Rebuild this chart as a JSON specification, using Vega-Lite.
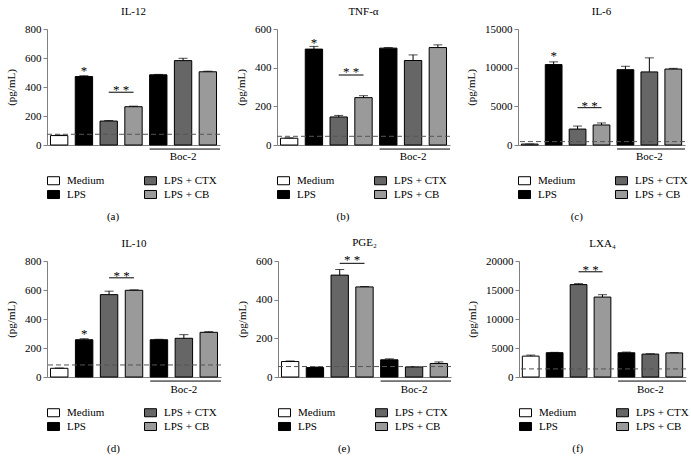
{
"$schema": "https://vega.github.io/schema/vega-lite/v6.json",
"padding": {"left": 5, "top": 6, "right": 2, "bottom": 2},
"config": {
  "font": "Liberation Serif",
  "view": {"stroke": null},
  "text": {"color": "#000"},
  "axis": {"grid": false, "labelFontSize": 11, "labelColor": "#000", "labelOverlap": false, "titleFontSize": 11, "titleFontWeight": "normal", "titleColor": "#000", "domainColor": "#808080", "tickColor": "#808080", "tickSize": 4, "labelPadding": 2},
  "axisY": {"titlePadding": 8},
  "title": {"fontSize": 11, "fontWeight": "normal", "color": "#000"},
  "legend": {"orient": "bottom", "columns": 2, "columnPadding": 37, "rowPadding": 1, "symbolType": "M-1,-0.67H1V0.67H-1Z", "symbolSize": 144, "symbolStrokeColor": "#000", "symbolStrokeWidth": 1, "labelFontSize": 11, "labelColor": "#000", "labelOffset": 7, "offset": 29, "padding": 0}
},
"datasets": {
  "a": [
    {"cond": "Medium", "group": "Medium", "v": 65, "hi": 68},
    {"cond": "LPS", "group": "LPS", "v": 472, "hi": 478},
    {"cond": "LPS + CTX", "group": "LPS + CTX", "v": 165, "hi": 169},
    {"cond": "LPS + CB", "group": "LPS + CB", "v": 264, "hi": 268},
    {"cond": "Boc-2 LPS", "group": "LPS", "v": 484, "hi": 487},
    {"cond": "Boc-2 LPS + CTX", "group": "LPS + CTX", "v": 582, "hi": 598},
    {"cond": "Boc-2 LPS + CB", "group": "LPS + CB", "v": 505, "hi": 509}
  ],
  "b": [
    {"cond": "Medium", "group": "Medium", "v": 35, "hi": 37},
    {"cond": "LPS", "group": "LPS", "v": 496, "hi": 510},
    {"cond": "LPS + CTX", "group": "LPS + CTX", "v": 145, "hi": 153},
    {"cond": "LPS + CB", "group": "LPS + CB", "v": 245, "hi": 255},
    {"cond": "Boc-2 LPS", "group": "LPS", "v": 501, "hi": 504},
    {"cond": "Boc-2 LPS + CTX", "group": "LPS + CTX", "v": 437, "hi": 466},
    {"cond": "Boc-2 LPS + CB", "group": "LPS + CB", "v": 504, "hi": 518}
  ],
  "c": [
    {"cond": "Medium", "group": "Medium", "v": 120, "hi": 130},
    {"cond": "LPS", "group": "LPS", "v": 10400, "hi": 10750},
    {"cond": "LPS + CTX", "group": "LPS + CTX", "v": 2060, "hi": 2450},
    {"cond": "LPS + CB", "group": "LPS + CB", "v": 2590, "hi": 2850},
    {"cond": "Boc-2 LPS", "group": "LPS", "v": 9740, "hi": 10180},
    {"cond": "Boc-2 LPS + CTX", "group": "LPS + CTX", "v": 9450, "hi": 11270},
    {"cond": "Boc-2 LPS + CB", "group": "LPS + CB", "v": 9820, "hi": 9910}
  ],
  "d": [
    {"cond": "Medium", "group": "Medium", "v": 60, "hi": 62},
    {"cond": "LPS", "group": "LPS", "v": 257, "hi": 264},
    {"cond": "LPS + CTX", "group": "LPS + CTX", "v": 568, "hi": 592},
    {"cond": "LPS + CB", "group": "LPS + CB", "v": 598, "hi": 601},
    {"cond": "Boc-2 LPS", "group": "LPS", "v": 257, "hi": 260},
    {"cond": "Boc-2 LPS + CTX", "group": "LPS + CTX", "v": 267, "hi": 292},
    {"cond": "Boc-2 LPS + CB", "group": "LPS + CB", "v": 308, "hi": 313}
  ],
  "e": [
    {"cond": "Medium", "group": "Medium", "v": 80, "hi": 83},
    {"cond": "LPS", "group": "LPS", "v": 49, "hi": 52},
    {"cond": "LPS + CTX", "group": "LPS + CTX", "v": 527, "hi": 556},
    {"cond": "LPS + CB", "group": "LPS + CB", "v": 466, "hi": 468},
    {"cond": "Boc-2 LPS", "group": "LPS", "v": 89, "hi": 94},
    {"cond": "Boc-2 LPS + CTX", "group": "LPS + CTX", "v": 52, "hi": 54},
    {"cond": "Boc-2 LPS + CB", "group": "LPS + CB", "v": 70, "hi": 78}
  ],
  "f": [
    {"cond": "Medium", "group": "Medium", "v": 3600, "hi": 3780},
    {"cond": "LPS", "group": "LPS", "v": 4190, "hi": 4250},
    {"cond": "LPS + CTX", "group": "LPS + CTX", "v": 15930, "hi": 16100},
    {"cond": "LPS + CB", "group": "LPS + CB", "v": 13780, "hi": 14190},
    {"cond": "Boc-2 LPS", "group": "LPS", "v": 4180, "hi": 4300},
    {"cond": "Boc-2 LPS + CTX", "group": "LPS + CTX", "v": 3950, "hi": 4010},
    {"cond": "Boc-2 LPS + CB", "group": "LPS + CB", "v": 4150, "hi": 4200}
  ]
},
"resolve": {"scale": {"fill": "independent"}, "legend": {"fill": "independent"}},
"spacing": 15,
"vconcat": [
{"hconcat": [
 {"title": {"text": "(a)", "orient": "bottom", "anchor": "middle", "offset": 10},
  "resolve": {"scale": {"fill": "independent"}, "legend": {"fill": "independent"}},
  "vconcat": [{
   "width": 173, "height": 116,
   "title": {"text": "IL-12", "frame": "group", "offset": 6},
   "layer": [
    {"data": {"name": "a"}, "mark": {"type": "bar", "stroke": "#000", "strokeWidth": 1},
     "encoding": {
      "x": {"field": "cond", "type": "nominal", "sort": null, "scale": {"domain": ["Medium","LPS","LPS + CTX","LPS + CB","Boc-2 LPS","Boc-2 LPS + CTX","Boc-2 LPS + CB"], "paddingInner": 0.3, "paddingOuter": 0.14}, "axis": {"labels": false, "ticks": false, "title": null}},
      "y": {"field": "v", "type": "quantitative", "scale": {"domain": [0, 800], "nice": false}, "axis": {"values": [0, 200, 400, 600, 800], "tickCount": 5, "labelOverlap": false, "format": "d", "title": "(pg/mL)"}},
      "fill": {"field": "group", "type": "nominal", "scale": {"domain": ["Medium", "LPS + CTX", "LPS", "LPS + CB"], "range": ["#ffffff", "#666666", "#000000", "#9a9a9a"]}, "legend": {"title": null}}}},
    {"data": {"name": "a"}, "mark": {"type": "rule", "color": "#000"},
     "encoding": {
      "x": {"field": "cond", "type": "nominal", "sort": null, "scale": {"domain": ["Medium","LPS","LPS + CTX","LPS + CB","Boc-2 LPS","Boc-2 LPS + CTX","Boc-2 LPS + CB"], "paddingInner": 0.3, "paddingOuter": 0.14}, "axis": {"labels": false, "ticks": false, "title": null}},
      "y": {"field": "v", "type": "quantitative", "scale": {"domain": [0, 800], "nice": false}, "axis": {"values": [0, 200, 400, 600, 800], "tickCount": 5, "labelOverlap": false, "format": "d", "title": "(pg/mL)"}}, "y2": {"field": "hi"}}},
    {"data": {"name": "a"}, "mark": {"type": "tick", "color": "#000", "size": 9, "thickness": 1},
     "encoding": {
      "x": {"field": "cond", "type": "nominal", "sort": null, "scale": {"domain": ["Medium","LPS","LPS + CTX","LPS + CB","Boc-2 LPS","Boc-2 LPS + CTX","Boc-2 LPS + CB"], "paddingInner": 0.3, "paddingOuter": 0.14}, "axis": {"labels": false, "ticks": false, "title": null}},
      "y": {"field": "hi", "type": "quantitative", "scale": {"domain": [0, 800], "nice": false}, "axis": {"values": [0, 200, 400, 600, 800], "tickCount": 5, "labelOverlap": false, "format": "d", "title": "(pg/mL)"}}}},
    {"data": {"values": [{"b": 74}]}, "mark": {"type": "rule", "color": "#555", "strokeDash": [5, 3]},
     "encoding": {"y": {"field": "b", "type": "quantitative", "scale": {"domain": [0, 800], "nice": false}, "axis": {"values": [0, 200, 400, 600, 800], "tickCount": 5, "labelOverlap": false, "format": "d", "title": "(pg/mL)"}}}},
    {"data": {"values": [{"cond": "LPS", "y": 510, "t": "*"}]}, "mark": {"type": "text", "fontSize": 13, "color": "#000"},
     "encoding": {
      "x": {"field": "cond", "type": "nominal", "sort": null, "scale": {"domain": ["Medium","LPS","LPS + CTX","LPS + CB","Boc-2 LPS","Boc-2 LPS + CTX","Boc-2 LPS + CB"], "paddingInner": 0.3, "paddingOuter": 0.14}, "axis": {"labels": false, "ticks": false, "title": null}},
      "y": {"field": "y", "type": "quantitative", "scale": {"domain": [0, 800], "nice": false}, "axis": {"values": [0, 200, 400, 600, 800], "tickCount": 5, "labelOverlap": false, "format": "d", "title": "(pg/mL)"}}, "text": {"field": "t"}}},
    {"data": {"values": [{"cond": "Boc-2 LPS + CTX", "y": -83, "t": "Boc-2"}]}, "mark": {"type": "text", "fontSize": 11, "color": "#000"},
     "encoding": {
      "x": {"field": "cond", "type": "nominal", "sort": null, "scale": {"domain": ["Medium","LPS","LPS + CTX","LPS + CB","Boc-2 LPS","Boc-2 LPS + CTX","Boc-2 LPS + CB"], "paddingInner": 0.3, "paddingOuter": 0.14}, "axis": {"labels": false, "ticks": false, "title": null}},
      "y": {"field": "y", "type": "quantitative", "scale": {"domain": [0, 800], "nice": false}, "axis": {"values": [0, 200, 400, 600, 800], "tickCount": 5, "labelOverlap": false, "format": "d", "title": "(pg/mL)"}}, "text": {"field": "t"}}},
    {"data": {"values": [{"cond": "LPS + CTX", "y": 381, "t": "* *"}]}, "mark": {"type": "text", "fontSize": 13, "color": "#000"},
     "encoding": {
      "x": {"field": "cond", "type": "nominal", "sort": null, "bandPosition": 1.215, "scale": {"domain": ["Medium","LPS","LPS + CTX","LPS + CB","Boc-2 LPS","Boc-2 LPS + CTX","Boc-2 LPS + CB"], "paddingInner": 0.3, "paddingOuter": 0.14}, "axis": {"labels": false, "ticks": false, "title": null}},
      "y": {"field": "y", "type": "quantitative", "scale": {"domain": [0, 800], "nice": false}, "axis": {"values": [0, 200, 400, 600, 800], "tickCount": 5, "labelOverlap": false, "format": "d", "title": "(pg/mL)"}}, "text": {"field": "t"}}},
    {"data": {"values": [{"c1": "LPS + CTX", "c2": "LPS + CB", "y": 364}]}, "mark": {"type": "rule", "color": "#000"},
     "encoding": {
      "x": {"field": "c1", "type": "nominal", "sort": null, "scale": {"domain": ["Medium","LPS","LPS + CTX","LPS + CB","Boc-2 LPS","Boc-2 LPS + CTX","Boc-2 LPS + CB"], "paddingInner": 0.3, "paddingOuter": 0.14}, "axis": {"labels": false, "ticks": false, "title": null}},
      "x2": {"field": "c2"},
      "y": {"field": "y", "type": "quantitative", "scale": {"domain": [0, 800], "nice": false}, "axis": {"values": [0, 200, 400, 600, 800], "tickCount": 5, "labelOverlap": false, "format": "d", "title": "(pg/mL)"}}}},
    {"data": {"values": [{"c1": "Boc-2 LPS", "c2": "Boc-2 LPS + CB", "y": -28}]}, "mark": {"type": "rule", "color": "#000"},
     "encoding": {
      "x": {"field": "c1", "type": "nominal", "sort": null, "bandPosition": 0, "scale": {"domain": ["Medium","LPS","LPS + CTX","LPS + CB","Boc-2 LPS","Boc-2 LPS + CTX","Boc-2 LPS + CB"], "paddingInner": 0.3, "paddingOuter": 0.14}, "axis": {"labels": false, "ticks": false, "title": null}},
      "x2": {"field": "c2", "bandPosition": 1.2},
      "y": {"field": "y", "type": "quantitative", "scale": {"domain": [0, 800], "nice": false}, "axis": {"values": [0, 200, 400, 600, 800], "tickCount": 5, "labelOverlap": false, "format": "d", "title": "(pg/mL)"}}}}
   ]
  }]
 },
 {"title": {"text": "(b)", "orient": "bottom", "anchor": "middle", "offset": 10},
  "resolve": {"scale": {"fill": "independent"}, "legend": {"fill": "independent"}},
  "vconcat": [{
   "width": 173, "height": 116,
   "title": {"text": "TNF-α", "frame": "group", "offset": 6},
   "layer": [
    {"data": {"name": "b"}, "mark": {"type": "bar", "stroke": "#000", "strokeWidth": 1},
     "encoding": {
      "x": {"field": "cond", "type": "nominal", "sort": null, "scale": {"domain": ["Medium","LPS","LPS + CTX","LPS + CB","Boc-2 LPS","Boc-2 LPS + CTX","Boc-2 LPS + CB"], "paddingInner": 0.3, "paddingOuter": 0.14}, "axis": {"labels": false, "ticks": false, "title": null}},
      "y": {"field": "v", "type": "quantitative", "scale": {"domain": [0, 600], "nice": false}, "axis": {"values": [0, 200, 400, 600], "tickCount": 4, "labelOverlap": false, "format": "d", "title": "(pg/mL)"}},
      "fill": {"field": "group", "type": "nominal", "scale": {"domain": ["Medium", "LPS + CTX", "LPS", "LPS + CB"], "range": ["#ffffff", "#666666", "#000000", "#9a9a9a"]}, "legend": {"title": null}}}},
    {"data": {"name": "b"}, "mark": {"type": "rule", "color": "#000"},
     "encoding": {
      "x": {"field": "cond", "type": "nominal", "sort": null, "scale": {"domain": ["Medium","LPS","LPS + CTX","LPS + CB","Boc-2 LPS","Boc-2 LPS + CTX","Boc-2 LPS + CB"], "paddingInner": 0.3, "paddingOuter": 0.14}, "axis": {"labels": false, "ticks": false, "title": null}},
      "y": {"field": "v", "type": "quantitative", "scale": {"domain": [0, 600], "nice": false}, "axis": {"values": [0, 200, 400, 600], "tickCount": 4, "labelOverlap": false, "format": "d", "title": "(pg/mL)"}}, "y2": {"field": "hi"}}},
    {"data": {"name": "b"}, "mark": {"type": "tick", "color": "#000", "size": 9, "thickness": 1},
     "encoding": {
      "x": {"field": "cond", "type": "nominal", "sort": null, "scale": {"domain": ["Medium","LPS","LPS + CTX","LPS + CB","Boc-2 LPS","Boc-2 LPS + CTX","Boc-2 LPS + CB"], "paddingInner": 0.3, "paddingOuter": 0.14}, "axis": {"labels": false, "ticks": false, "title": null}},
      "y": {"field": "hi", "type": "quantitative", "scale": {"domain": [0, 600], "nice": false}, "axis": {"values": [0, 200, 400, 600], "tickCount": 4, "labelOverlap": false, "format": "d", "title": "(pg/mL)"}}}},
    {"data": {"values": [{"b": 45}]}, "mark": {"type": "rule", "color": "#555", "strokeDash": [5, 3]},
     "encoding": {"y": {"field": "b", "type": "quantitative", "scale": {"domain": [0, 600], "nice": false}, "axis": {"values": [0, 200, 400, 600], "tickCount": 4, "labelOverlap": false, "format": "d", "title": "(pg/mL)"}}}},
    {"data": {"values": [{"cond": "LPS", "y": 526, "t": "*"}]}, "mark": {"type": "text", "fontSize": 13, "color": "#000"},
     "encoding": {
      "x": {"field": "cond", "type": "nominal", "sort": null, "scale": {"domain": ["Medium","LPS","LPS + CTX","LPS + CB","Boc-2 LPS","Boc-2 LPS + CTX","Boc-2 LPS + CB"], "paddingInner": 0.3, "paddingOuter": 0.14}, "axis": {"labels": false, "ticks": false, "title": null}},
      "y": {"field": "y", "type": "quantitative", "scale": {"domain": [0, 600], "nice": false}, "axis": {"values": [0, 200, 400, 600], "tickCount": 4, "labelOverlap": false, "format": "d", "title": "(pg/mL)"}}, "text": {"field": "t"}}},
    {"data": {"values": [{"cond": "Boc-2 LPS + CTX", "y": -62, "t": "Boc-2"}]}, "mark": {"type": "text", "fontSize": 11, "color": "#000"},
     "encoding": {
      "x": {"field": "cond", "type": "nominal", "sort": null, "scale": {"domain": ["Medium","LPS","LPS + CTX","LPS + CB","Boc-2 LPS","Boc-2 LPS + CTX","Boc-2 LPS + CB"], "paddingInner": 0.3, "paddingOuter": 0.14}, "axis": {"labels": false, "ticks": false, "title": null}},
      "y": {"field": "y", "type": "quantitative", "scale": {"domain": [0, 600], "nice": false}, "axis": {"values": [0, 200, 400, 600], "tickCount": 4, "labelOverlap": false, "format": "d", "title": "(pg/mL)"}}, "text": {"field": "t"}}},
    {"data": {"values": [{"cond": "LPS + CTX", "y": 377, "t": "* *"}]}, "mark": {"type": "text", "fontSize": 13, "color": "#000"},
     "encoding": {
      "x": {"field": "cond", "type": "nominal", "sort": null, "bandPosition": 1.215, "scale": {"domain": ["Medium","LPS","LPS + CTX","LPS + CB","Boc-2 LPS","Boc-2 LPS + CTX","Boc-2 LPS + CB"], "paddingInner": 0.3, "paddingOuter": 0.14}, "axis": {"labels": false, "ticks": false, "title": null}},
      "y": {"field": "y", "type": "quantitative", "scale": {"domain": [0, 600], "nice": false}, "axis": {"values": [0, 200, 400, 600], "tickCount": 4, "labelOverlap": false, "format": "d", "title": "(pg/mL)"}}, "text": {"field": "t"}}},
    {"data": {"values": [{"c1": "LPS + CTX", "c2": "LPS + CB", "y": 362}]}, "mark": {"type": "rule", "color": "#000"},
     "encoding": {
      "x": {"field": "c1", "type": "nominal", "sort": null, "scale": {"domain": ["Medium","LPS","LPS + CTX","LPS + CB","Boc-2 LPS","Boc-2 LPS + CTX","Boc-2 LPS + CB"], "paddingInner": 0.3, "paddingOuter": 0.14}, "axis": {"labels": false, "ticks": false, "title": null}},
      "x2": {"field": "c2"},
      "y": {"field": "y", "type": "quantitative", "scale": {"domain": [0, 600], "nice": false}, "axis": {"values": [0, 200, 400, 600], "tickCount": 4, "labelOverlap": false, "format": "d", "title": "(pg/mL)"}}}},
    {"data": {"values": [{"c1": "Boc-2 LPS", "c2": "Boc-2 LPS + CB", "y": -21}]}, "mark": {"type": "rule", "color": "#000"},
     "encoding": {
      "x": {"field": "c1", "type": "nominal", "sort": null, "bandPosition": 0, "scale": {"domain": ["Medium","LPS","LPS + CTX","LPS + CB","Boc-2 LPS","Boc-2 LPS + CTX","Boc-2 LPS + CB"], "paddingInner": 0.3, "paddingOuter": 0.14}, "axis": {"labels": false, "ticks": false, "title": null}},
      "x2": {"field": "c2", "bandPosition": 1.2},
      "y": {"field": "y", "type": "quantitative", "scale": {"domain": [0, 600], "nice": false}, "axis": {"values": [0, 200, 400, 600], "tickCount": 4, "labelOverlap": false, "format": "d", "title": "(pg/mL)"}}}}
   ]
  }]
 },
 {"title": {"text": "(c)", "orient": "bottom", "anchor": "middle", "offset": 10},
  "resolve": {"scale": {"fill": "independent"}, "legend": {"fill": "independent"}},
  "vconcat": [{
   "width": 167, "height": 116,
   "title": {"text": "IL-6", "frame": "group", "offset": 6},
   "layer": [
    {"data": {"name": "c"}, "mark": {"type": "bar", "stroke": "#000", "strokeWidth": 1},
     "encoding": {
      "x": {"field": "cond", "type": "nominal", "sort": null, "scale": {"domain": ["Medium","LPS","LPS + CTX","LPS + CB","Boc-2 LPS","Boc-2 LPS + CTX","Boc-2 LPS + CB"], "paddingInner": 0.3, "paddingOuter": 0.14}, "axis": {"labels": false, "ticks": false, "title": null}},
      "y": {"field": "v", "type": "quantitative", "scale": {"domain": [0, 15000], "nice": false}, "axis": {"values": [0, 5000, 10000, 15000], "tickCount": 4, "labelOverlap": false, "format": "d", "title": "(pg/mL)"}},
      "fill": {"field": "group", "type": "nominal", "scale": {"domain": ["Medium", "LPS + CTX", "LPS", "LPS + CB"], "range": ["#ffffff", "#666666", "#000000", "#9a9a9a"]}, "legend": {"title": null}}}},
    {"data": {"name": "c"}, "mark": {"type": "rule", "color": "#000"},
     "encoding": {
      "x": {"field": "cond", "type": "nominal", "sort": null, "scale": {"domain": ["Medium","LPS","LPS + CTX","LPS + CB","Boc-2 LPS","Boc-2 LPS + CTX","Boc-2 LPS + CB"], "paddingInner": 0.3, "paddingOuter": 0.14}, "axis": {"labels": false, "ticks": false, "title": null}},
      "y": {"field": "v", "type": "quantitative", "scale": {"domain": [0, 15000], "nice": false}, "axis": {"values": [0, 5000, 10000, 15000], "tickCount": 4, "labelOverlap": false, "format": "d", "title": "(pg/mL)"}}, "y2": {"field": "hi"}}},
    {"data": {"name": "c"}, "mark": {"type": "tick", "color": "#000", "size": 9, "thickness": 1},
     "encoding": {
      "x": {"field": "cond", "type": "nominal", "sort": null, "scale": {"domain": ["Medium","LPS","LPS + CTX","LPS + CB","Boc-2 LPS","Boc-2 LPS + CTX","Boc-2 LPS + CB"], "paddingInner": 0.3, "paddingOuter": 0.14}, "axis": {"labels": false, "ticks": false, "title": null}},
      "y": {"field": "hi", "type": "quantitative", "scale": {"domain": [0, 15000], "nice": false}, "axis": {"values": [0, 5000, 10000, 15000], "tickCount": 4, "labelOverlap": false, "format": "d", "title": "(pg/mL)"}}}},
    {"data": {"values": [{"b": 440}]}, "mark": {"type": "rule", "color": "#555", "strokeDash": [5, 3]},
     "encoding": {"y": {"field": "b", "type": "quantitative", "scale": {"domain": [0, 15000], "nice": false}, "axis": {"values": [0, 5000, 10000, 15000], "tickCount": 4, "labelOverlap": false, "format": "d", "title": "(pg/mL)"}}}},
    {"data": {"values": [{"cond": "LPS", "y": 11452, "t": "*"}]}, "mark": {"type": "text", "fontSize": 13, "color": "#000"},
     "encoding": {
      "x": {"field": "cond", "type": "nominal", "sort": null, "scale": {"domain": ["Medium","LPS","LPS + CTX","LPS + CB","Boc-2 LPS","Boc-2 LPS + CTX","Boc-2 LPS + CB"], "paddingInner": 0.3, "paddingOuter": 0.14}, "axis": {"labels": false, "ticks": false, "title": null}},
      "y": {"field": "y", "type": "quantitative", "scale": {"domain": [0, 15000], "nice": false}, "axis": {"values": [0, 5000, 10000, 15000], "tickCount": 4, "labelOverlap": false, "format": "d", "title": "(pg/mL)"}}, "text": {"field": "t"}}},
    {"data": {"values": [{"cond": "Boc-2 LPS + CTX", "y": -1550, "t": "Boc-2"}]}, "mark": {"type": "text", "fontSize": 11, "color": "#000"},
     "encoding": {
      "x": {"field": "cond", "type": "nominal", "sort": null, "scale": {"domain": ["Medium","LPS","LPS + CTX","LPS + CB","Boc-2 LPS","Boc-2 LPS + CTX","Boc-2 LPS + CB"], "paddingInner": 0.3, "paddingOuter": 0.14}, "axis": {"labels": false, "ticks": false, "title": null}},
      "y": {"field": "y", "type": "quantitative", "scale": {"domain": [0, 15000], "nice": false}, "axis": {"values": [0, 5000, 10000, 15000], "tickCount": 4, "labelOverlap": false, "format": "d", "title": "(pg/mL)"}}, "text": {"field": "t"}}},
    {"data": {"values": [{"cond": "LPS + CTX", "y": 5090, "t": "* *"}]}, "mark": {"type": "text", "fontSize": 13, "color": "#000"},
     "encoding": {
      "x": {"field": "cond", "type": "nominal", "sort": null, "bandPosition": 1.215, "scale": {"domain": ["Medium","LPS","LPS + CTX","LPS + CB","Boc-2 LPS","Boc-2 LPS + CTX","Boc-2 LPS + CB"], "paddingInner": 0.3, "paddingOuter": 0.14}, "axis": {"labels": false, "ticks": false, "title": null}},
      "y": {"field": "y", "type": "quantitative", "scale": {"domain": [0, 15000], "nice": false}, "axis": {"values": [0, 5000, 10000, 15000], "tickCount": 4, "labelOverlap": false, "format": "d", "title": "(pg/mL)"}}, "text": {"field": "t"}}},
    {"data": {"values": [{"c1": "LPS + CTX", "c2": "LPS + CB", "y": 4825}]}, "mark": {"type": "rule", "color": "#000"},
     "encoding": {
      "x": {"field": "c1", "type": "nominal", "sort": null, "scale": {"domain": ["Medium","LPS","LPS + CTX","LPS + CB","Boc-2 LPS","Boc-2 LPS + CTX","Boc-2 LPS + CB"], "paddingInner": 0.3, "paddingOuter": 0.14}, "axis": {"labels": false, "ticks": false, "title": null}},
      "x2": {"field": "c2"},
      "y": {"field": "y", "type": "quantitative", "scale": {"domain": [0, 15000], "nice": false}, "axis": {"values": [0, 5000, 10000, 15000], "tickCount": 4, "labelOverlap": false, "format": "d", "title": "(pg/mL)"}}}},
    {"data": {"values": [{"c1": "Boc-2 LPS", "c2": "Boc-2 LPS + CB", "y": -516}]}, "mark": {"type": "rule", "color": "#000"},
     "encoding": {
      "x": {"field": "c1", "type": "nominal", "sort": null, "bandPosition": 0, "scale": {"domain": ["Medium","LPS","LPS + CTX","LPS + CB","Boc-2 LPS","Boc-2 LPS + CTX","Boc-2 LPS + CB"], "paddingInner": 0.3, "paddingOuter": 0.14}, "axis": {"labels": false, "ticks": false, "title": null}},
      "x2": {"field": "c2", "bandPosition": 1.2},
      "y": {"field": "y", "type": "quantitative", "scale": {"domain": [0, 15000], "nice": false}, "axis": {"values": [0, 5000, 10000, 15000], "tickCount": 4, "labelOverlap": false, "format": "d", "title": "(pg/mL)"}}}}
   ]
  }]
 }
], "spacing": 14, "resolve": {"scale": {"fill": "independent"}, "legend": {"fill": "independent"}}},
{"hconcat": [
 {"title": {"text": "(d)", "orient": "bottom", "anchor": "middle", "offset": 10},
  "resolve": {"scale": {"fill": "independent"}, "legend": {"fill": "independent"}},
  "vconcat": [{
   "width": 174, "height": 116,
   "title": {"text": "IL-10", "frame": "group", "offset": 6},
   "layer": [
    {"data": {"name": "d"}, "mark": {"type": "bar", "stroke": "#000", "strokeWidth": 1},
     "encoding": {
      "x": {"field": "cond", "type": "nominal", "sort": null, "scale": {"domain": ["Medium","LPS","LPS + CTX","LPS + CB","Boc-2 LPS","Boc-2 LPS + CTX","Boc-2 LPS + CB"], "paddingInner": 0.3, "paddingOuter": 0.14}, "axis": {"labels": false, "ticks": false, "title": null}},
      "y": {"field": "v", "type": "quantitative", "scale": {"domain": [0, 800], "nice": false}, "axis": {"values": [0, 200, 400, 600, 800], "tickCount": 5, "labelOverlap": false, "format": "d", "title": "(pg/mL)"}},
      "fill": {"field": "group", "type": "nominal", "scale": {"domain": ["Medium", "LPS + CTX", "LPS", "LPS + CB"], "range": ["#ffffff", "#666666", "#000000", "#9a9a9a"]}, "legend": {"title": null}}}},
    {"data": {"name": "d"}, "mark": {"type": "rule", "color": "#000"},
     "encoding": {
      "x": {"field": "cond", "type": "nominal", "sort": null, "scale": {"domain": ["Medium","LPS","LPS + CTX","LPS + CB","Boc-2 LPS","Boc-2 LPS + CTX","Boc-2 LPS + CB"], "paddingInner": 0.3, "paddingOuter": 0.14}, "axis": {"labels": false, "ticks": false, "title": null}},
      "y": {"field": "v", "type": "quantitative", "scale": {"domain": [0, 800], "nice": false}, "axis": {"values": [0, 200, 400, 600, 800], "tickCount": 5, "labelOverlap": false, "format": "d", "title": "(pg/mL)"}}, "y2": {"field": "hi"}}},
    {"data": {"name": "d"}, "mark": {"type": "tick", "color": "#000", "size": 9, "thickness": 1},
     "encoding": {
      "x": {"field": "cond", "type": "nominal", "sort": null, "scale": {"domain": ["Medium","LPS","LPS + CTX","LPS + CB","Boc-2 LPS","Boc-2 LPS + CTX","Boc-2 LPS + CB"], "paddingInner": 0.3, "paddingOuter": 0.14}, "axis": {"labels": false, "ticks": false, "title": null}},
      "y": {"field": "hi", "type": "quantitative", "scale": {"domain": [0, 800], "nice": false}, "axis": {"values": [0, 200, 400, 600, 800], "tickCount": 5, "labelOverlap": false, "format": "d", "title": "(pg/mL)"}}}},
    {"data": {"values": [{"b": 83}]}, "mark": {"type": "rule", "color": "#555", "strokeDash": [5, 3]},
     "encoding": {"y": {"field": "b", "type": "quantitative", "scale": {"domain": [0, 800], "nice": false}, "axis": {"values": [0, 200, 400, 600, 800], "tickCount": 5, "labelOverlap": false, "format": "d", "title": "(pg/mL)"}}}},
    {"data": {"values": [{"cond": "LPS", "y": 294, "t": "*"}]}, "mark": {"type": "text", "fontSize": 13, "color": "#000"},
     "encoding": {
      "x": {"field": "cond", "type": "nominal", "sort": null, "scale": {"domain": ["Medium","LPS","LPS + CTX","LPS + CB","Boc-2 LPS","Boc-2 LPS + CTX","Boc-2 LPS + CB"], "paddingInner": 0.3, "paddingOuter": 0.14}, "axis": {"labels": false, "ticks": false, "title": null}},
      "y": {"field": "y", "type": "quantitative", "scale": {"domain": [0, 800], "nice": false}, "axis": {"values": [0, 200, 400, 600, 800], "tickCount": 5, "labelOverlap": false, "format": "d", "title": "(pg/mL)"}}, "text": {"field": "t"}}},
    {"data": {"values": [{"cond": "Boc-2 LPS + CTX", "y": -90, "t": "Boc-2"}]}, "mark": {"type": "text", "fontSize": 11, "color": "#000"},
     "encoding": {
      "x": {"field": "cond", "type": "nominal", "sort": null, "scale": {"domain": ["Medium","LPS","LPS + CTX","LPS + CB","Boc-2 LPS","Boc-2 LPS + CTX","Boc-2 LPS + CB"], "paddingInner": 0.3, "paddingOuter": 0.14}, "axis": {"labels": false, "ticks": false, "title": null}},
      "y": {"field": "y", "type": "quantitative", "scale": {"domain": [0, 800], "nice": false}, "axis": {"values": [0, 200, 400, 600, 800], "tickCount": 5, "labelOverlap": false, "format": "d", "title": "(pg/mL)"}}, "text": {"field": "t"}}},
    {"data": {"values": [{"cond": "LPS + CTX", "y": 700, "t": "* *"}]}, "mark": {"type": "text", "fontSize": 13, "color": "#000"},
     "encoding": {
      "x": {"field": "cond", "type": "nominal", "sort": null, "bandPosition": 1.215, "scale": {"domain": ["Medium","LPS","LPS + CTX","LPS + CB","Boc-2 LPS","Boc-2 LPS + CTX","Boc-2 LPS + CB"], "paddingInner": 0.3, "paddingOuter": 0.14}, "axis": {"labels": false, "ticks": false, "title": null}},
      "y": {"field": "y", "type": "quantitative", "scale": {"domain": [0, 800], "nice": false}, "axis": {"values": [0, 200, 400, 600, 800], "tickCount": 5, "labelOverlap": false, "format": "d", "title": "(pg/mL)"}}, "text": {"field": "t"}}},
    {"data": {"values": [{"c1": "LPS + CTX", "c2": "LPS + CB", "y": 684}]}, "mark": {"type": "rule", "color": "#000"},
     "encoding": {
      "x": {"field": "c1", "type": "nominal", "sort": null, "scale": {"domain": ["Medium","LPS","LPS + CTX","LPS + CB","Boc-2 LPS","Boc-2 LPS + CTX","Boc-2 LPS + CB"], "paddingInner": 0.3, "paddingOuter": 0.14}, "axis": {"labels": false, "ticks": false, "title": null}},
      "x2": {"field": "c2"},
      "y": {"field": "y", "type": "quantitative", "scale": {"domain": [0, 800], "nice": false}, "axis": {"values": [0, 200, 400, 600, 800], "tickCount": 5, "labelOverlap": false, "format": "d", "title": "(pg/mL)"}}}},
    {"data": {"values": [{"c1": "Boc-2 LPS", "c2": "Boc-2 LPS + CB", "y": -28}]}, "mark": {"type": "rule", "color": "#000"},
     "encoding": {
      "x": {"field": "c1", "type": "nominal", "sort": null, "bandPosition": 0, "scale": {"domain": ["Medium","LPS","LPS + CTX","LPS + CB","Boc-2 LPS","Boc-2 LPS + CTX","Boc-2 LPS + CB"], "paddingInner": 0.3, "paddingOuter": 0.14}, "axis": {"labels": false, "ticks": false, "title": null}},
      "x2": {"field": "c2", "bandPosition": 1.2},
      "y": {"field": "y", "type": "quantitative", "scale": {"domain": [0, 800], "nice": false}, "axis": {"values": [0, 200, 400, 600, 800], "tickCount": 5, "labelOverlap": false, "format": "d", "title": "(pg/mL)"}}}}
   ]
  }]
 },
 {"title": {"text": "(e)", "orient": "bottom", "anchor": "middle", "offset": 10},
  "resolve": {"scale": {"fill": "independent"}, "legend": {"fill": "independent"}},
  "vconcat": [{
   "width": 173, "height": 116,
   "title": {"text": "PGE₂", "frame": "group", "offset": 6},
   "layer": [
    {"data": {"name": "e"}, "mark": {"type": "bar", "stroke": "#000", "strokeWidth": 1},
     "encoding": {
      "x": {"field": "cond", "type": "nominal", "sort": null, "scale": {"domain": ["Medium","LPS","LPS + CTX","LPS + CB","Boc-2 LPS","Boc-2 LPS + CTX","Boc-2 LPS + CB"], "paddingInner": 0.3, "paddingOuter": 0.14}, "axis": {"labels": false, "ticks": false, "title": null}},
      "y": {"field": "v", "type": "quantitative", "scale": {"domain": [0, 600], "nice": false}, "axis": {"values": [0, 200, 400, 600], "tickCount": 4, "labelOverlap": false, "format": "d", "title": "(pg/mL)"}},
      "fill": {"field": "group", "type": "nominal", "scale": {"domain": ["Medium", "LPS + CTX", "LPS", "LPS + CB"], "range": ["#ffffff", "#666666", "#000000", "#9a9a9a"]}, "legend": {"title": null}}}},
    {"data": {"name": "e"}, "mark": {"type": "rule", "color": "#000"},
     "encoding": {
      "x": {"field": "cond", "type": "nominal", "sort": null, "scale": {"domain": ["Medium","LPS","LPS + CTX","LPS + CB","Boc-2 LPS","Boc-2 LPS + CTX","Boc-2 LPS + CB"], "paddingInner": 0.3, "paddingOuter": 0.14}, "axis": {"labels": false, "ticks": false, "title": null}},
      "y": {"field": "v", "type": "quantitative", "scale": {"domain": [0, 600], "nice": false}, "axis": {"values": [0, 200, 400, 600], "tickCount": 4, "labelOverlap": false, "format": "d", "title": "(pg/mL)"}}, "y2": {"field": "hi"}}},
    {"data": {"name": "e"}, "mark": {"type": "tick", "color": "#000", "size": 9, "thickness": 1},
     "encoding": {
      "x": {"field": "cond", "type": "nominal", "sort": null, "scale": {"domain": ["Medium","LPS","LPS + CTX","LPS + CB","Boc-2 LPS","Boc-2 LPS + CTX","Boc-2 LPS + CB"], "paddingInner": 0.3, "paddingOuter": 0.14}, "axis": {"labels": false, "ticks": false, "title": null}},
      "y": {"field": "hi", "type": "quantitative", "scale": {"domain": [0, 600], "nice": false}, "axis": {"values": [0, 200, 400, 600], "tickCount": 4, "labelOverlap": false, "format": "d", "title": "(pg/mL)"}}}},
    {"data": {"values": [{"b": 54}]}, "mark": {"type": "rule", "color": "#555", "strokeDash": [5, 3]},
     "encoding": {"y": {"field": "b", "type": "quantitative", "scale": {"domain": [0, 600], "nice": false}, "axis": {"values": [0, 200, 400, 600], "tickCount": 4, "labelOverlap": false, "format": "d", "title": "(pg/mL)"}}}},
    {"data": {"values": [{"cond": "Boc-2 LPS + CTX", "y": -68, "t": "Boc-2"}]}, "mark": {"type": "text", "fontSize": 11, "color": "#000"},
     "encoding": {
      "x": {"field": "cond", "type": "nominal", "sort": null, "scale": {"domain": ["Medium","LPS","LPS + CTX","LPS + CB","Boc-2 LPS","Boc-2 LPS + CTX","Boc-2 LPS + CB"], "paddingInner": 0.3, "paddingOuter": 0.14}, "axis": {"labels": false, "ticks": false, "title": null}},
      "y": {"field": "y", "type": "quantitative", "scale": {"domain": [0, 600], "nice": false}, "axis": {"values": [0, 200, 400, 600], "tickCount": 4, "labelOverlap": false, "format": "d", "title": "(pg/mL)"}}, "text": {"field": "t"}}},
    {"data": {"values": [{"cond": "LPS + CTX", "y": 603, "t": "* *"}]}, "mark": {"type": "text", "fontSize": 13, "color": "#000"},
     "encoding": {
      "x": {"field": "cond", "type": "nominal", "sort": null, "bandPosition": 1.215, "scale": {"domain": ["Medium","LPS","LPS + CTX","LPS + CB","Boc-2 LPS","Boc-2 LPS + CTX","Boc-2 LPS + CB"], "paddingInner": 0.3, "paddingOuter": 0.14}, "axis": {"labels": false, "ticks": false, "title": null}},
      "y": {"field": "y", "type": "quantitative", "scale": {"domain": [0, 600], "nice": false}, "axis": {"values": [0, 200, 400, 600], "tickCount": 4, "labelOverlap": false, "format": "d", "title": "(pg/mL)"}}, "text": {"field": "t"}}},
    {"data": {"values": [{"c1": "LPS + CTX", "c2": "LPS + CB", "y": 588}]}, "mark": {"type": "rule", "color": "#000"},
     "encoding": {
      "x": {"field": "c1", "type": "nominal", "sort": null, "scale": {"domain": ["Medium","LPS","LPS + CTX","LPS + CB","Boc-2 LPS","Boc-2 LPS + CTX","Boc-2 LPS + CB"], "paddingInner": 0.3, "paddingOuter": 0.14}, "axis": {"labels": false, "ticks": false, "title": null}},
      "x2": {"field": "c2"},
      "y": {"field": "y", "type": "quantitative", "scale": {"domain": [0, 600], "nice": false}, "axis": {"values": [0, 200, 400, 600], "tickCount": 4, "labelOverlap": false, "format": "d", "title": "(pg/mL)"}}}},
    {"data": {"values": [{"c1": "Boc-2 LPS", "c2": "Boc-2 LPS + CB", "y": -21}]}, "mark": {"type": "rule", "color": "#000"},
     "encoding": {
      "x": {"field": "c1", "type": "nominal", "sort": null, "bandPosition": 0, "scale": {"domain": ["Medium","LPS","LPS + CTX","LPS + CB","Boc-2 LPS","Boc-2 LPS + CTX","Boc-2 LPS + CB"], "paddingInner": 0.3, "paddingOuter": 0.14}, "axis": {"labels": false, "ticks": false, "title": null}},
      "x2": {"field": "c2", "bandPosition": 1.2},
      "y": {"field": "y", "type": "quantitative", "scale": {"domain": [0, 600], "nice": false}, "axis": {"values": [0, 200, 400, 600], "tickCount": 4, "labelOverlap": false, "format": "d", "title": "(pg/mL)"}}}}
   ]
  }]
 },
 {"title": {"text": "(f)", "orient": "bottom", "anchor": "middle", "offset": 10},
  "resolve": {"scale": {"fill": "independent"}, "legend": {"fill": "independent"}},
  "vconcat": [{
   "width": 167, "height": 116,
   "title": {"text": "LXA₄", "frame": "group", "offset": 6},
   "layer": [
    {"data": {"name": "f"}, "mark": {"type": "bar", "stroke": "#000", "strokeWidth": 1},
     "encoding": {
      "x": {"field": "cond", "type": "nominal", "sort": null, "scale": {"domain": ["Medium","LPS","LPS + CTX","LPS + CB","Boc-2 LPS","Boc-2 LPS + CTX","Boc-2 LPS + CB"], "paddingInner": 0.3, "paddingOuter": 0.14}, "axis": {"labels": false, "ticks": false, "title": null}},
      "y": {"field": "v", "type": "quantitative", "scale": {"domain": [0, 20000], "nice": false}, "axis": {"values": [0, 5000, 10000, 15000, 20000], "tickCount": 5, "labelOverlap": false, "format": "d", "title": "(pg/mL)"}},
      "fill": {"field": "group", "type": "nominal", "scale": {"domain": ["Medium", "LPS + CTX", "LPS", "LPS + CB"], "range": ["#ffffff", "#666666", "#000000", "#9a9a9a"]}, "legend": {"title": null}}}},
    {"data": {"name": "f"}, "mark": {"type": "rule", "color": "#000"},
     "encoding": {
      "x": {"field": "cond", "type": "nominal", "sort": null, "scale": {"domain": ["Medium","LPS","LPS + CTX","LPS + CB","Boc-2 LPS","Boc-2 LPS + CTX","Boc-2 LPS + CB"], "paddingInner": 0.3, "paddingOuter": 0.14}, "axis": {"labels": false, "ticks": false, "title": null}},
      "y": {"field": "v", "type": "quantitative", "scale": {"domain": [0, 20000], "nice": false}, "axis": {"values": [0, 5000, 10000, 15000, 20000], "tickCount": 5, "labelOverlap": false, "format": "d", "title": "(pg/mL)"}}, "y2": {"field": "hi"}}},
    {"data": {"name": "f"}, "mark": {"type": "tick", "color": "#000", "size": 9, "thickness": 1},
     "encoding": {
      "x": {"field": "cond", "type": "nominal", "sort": null, "scale": {"domain": ["Medium","LPS","LPS + CTX","LPS + CB","Boc-2 LPS","Boc-2 LPS + CTX","Boc-2 LPS + CB"], "paddingInner": 0.3, "paddingOuter": 0.14}, "axis": {"labels": false, "ticks": false, "title": null}},
      "y": {"field": "hi", "type": "quantitative", "scale": {"domain": [0, 20000], "nice": false}, "axis": {"values": [0, 5000, 10000, 15000, 20000], "tickCount": 5, "labelOverlap": false, "format": "d", "title": "(pg/mL)"}}}},
    {"data": {"values": [{"b": 1395}]}, "mark": {"type": "rule", "color": "#555", "strokeDash": [5, 3]},
     "encoding": {"y": {"field": "b", "type": "quantitative", "scale": {"domain": [0, 20000], "nice": false}, "axis": {"values": [0, 5000, 10000, 15000, 20000], "tickCount": 5, "labelOverlap": false, "format": "d", "title": "(pg/mL)"}}}},
    {"data": {"values": [{"cond": "Boc-2 LPS + CTX", "y": -2260, "t": "Boc-2"}]}, "mark": {"type": "text", "fontSize": 11, "color": "#000"},
     "encoding": {
      "x": {"field": "cond", "type": "nominal", "sort": null, "scale": {"domain": ["Medium","LPS","LPS + CTX","LPS + CB","Boc-2 LPS","Boc-2 LPS + CTX","Boc-2 LPS + CB"], "paddingInner": 0.3, "paddingOuter": 0.14}, "axis": {"labels": false, "ticks": false, "title": null}},
      "y": {"field": "y", "type": "quantitative", "scale": {"domain": [0, 20000], "nice": false}, "axis": {"values": [0, 5000, 10000, 15000, 20000], "tickCount": 5, "labelOverlap": false, "format": "d", "title": "(pg/mL)"}}, "text": {"field": "t"}}},
    {"data": {"values": [{"cond": "LPS + CTX", "y": 18460, "t": "* *"}]}, "mark": {"type": "text", "fontSize": 13, "color": "#000"},
     "encoding": {
      "x": {"field": "cond", "type": "nominal", "sort": null, "bandPosition": 1.215, "scale": {"domain": ["Medium","LPS","LPS + CTX","LPS + CB","Boc-2 LPS","Boc-2 LPS + CTX","Boc-2 LPS + CB"], "paddingInner": 0.3, "paddingOuter": 0.14}, "axis": {"labels": false, "ticks": false, "title": null}},
      "y": {"field": "y", "type": "quantitative", "scale": {"domain": [0, 20000], "nice": false}, "axis": {"values": [0, 5000, 10000, 15000, 20000], "tickCount": 5, "labelOverlap": false, "format": "d", "title": "(pg/mL)"}}, "text": {"field": "t"}}},
    {"data": {"values": [{"c1": "LPS + CTX", "c2": "LPS + CB", "y": 18140}]}, "mark": {"type": "rule", "color": "#000"},
     "encoding": {
      "x": {"field": "c1", "type": "nominal", "sort": null, "scale": {"domain": ["Medium","LPS","LPS + CTX","LPS + CB","Boc-2 LPS","Boc-2 LPS + CTX","Boc-2 LPS + CB"], "paddingInner": 0.3, "paddingOuter": 0.14}, "axis": {"labels": false, "ticks": false, "title": null}},
      "x2": {"field": "c2"},
      "y": {"field": "y", "type": "quantitative", "scale": {"domain": [0, 20000], "nice": false}, "axis": {"values": [0, 5000, 10000, 15000, 20000], "tickCount": 5, "labelOverlap": false, "format": "d", "title": "(pg/mL)"}}}},
    {"data": {"values": [{"c1": "Boc-2 LPS", "c2": "Boc-2 LPS + CB", "y": -700}]}, "mark": {"type": "rule", "color": "#000"},
     "encoding": {
      "x": {"field": "c1", "type": "nominal", "sort": null, "bandPosition": 0, "scale": {"domain": ["Medium","LPS","LPS + CTX","LPS + CB","Boc-2 LPS","Boc-2 LPS + CTX","Boc-2 LPS + CB"], "paddingInner": 0.3, "paddingOuter": 0.14}, "axis": {"labels": false, "ticks": false, "title": null}},
      "x2": {"field": "c2", "bandPosition": 1.2},
      "y": {"field": "y", "type": "quantitative", "scale": {"domain": [0, 20000], "nice": false}, "axis": {"values": [0, 5000, 10000, 15000, 20000], "tickCount": 5, "labelOverlap": false, "format": "d", "title": "(pg/mL)"}}}}
   ]
  }]
 }
], "spacing": 14, "resolve": {"scale": {"fill": "independent"}, "legend": {"fill": "independent"}}}
]
}
